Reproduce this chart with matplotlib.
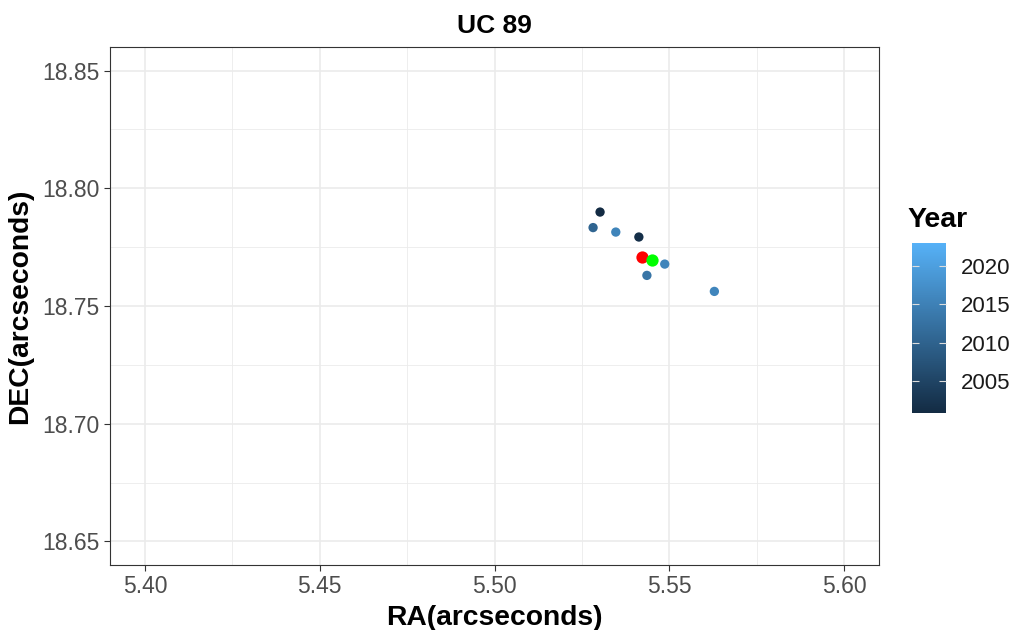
import matplotlib
matplotlib.use("Agg")
import matplotlib.pyplot as plt
from matplotlib.colors import LinearSegmentedColormap, Normalize
from matplotlib.cm import ScalarMappable
from matplotlib.ticker import MultipleLocator, FormatStrFormatter

plt.rcParams['font.family'] = ['Liberation Sans', 'DejaVu Sans']

# Observed positions, coloured by epoch
ra = [5.5302, 5.5282, 5.5347, 5.5413, 5.5487, 5.5436, 5.5629]
dec = [18.7899, 18.7833, 18.7814, 18.7793, 18.7678, 18.7630, 18.7562]
year = [2000.8, 2010.5, 2015.5, 2001.5, 2015.5, 2013.0, 2015.8]

# Reference positions
ref_ra = [5.5422]
ref_dec = [18.7708]
fit_ra = [5.5451]
fit_dec = [18.7697]

year_limits = (2000.8, 2023.0)
year_ticks = [2005, 2010, 2015, 2020]
x_ticks = [5.40, 5.45, 5.50, 5.55, 5.60]
y_ticks = [18.65, 18.70, 18.75, 18.80, 18.85]

cmap = LinearSegmentedColormap.from_list("year", ["#132B43", "#56B1F7"])
norm = Normalize(*year_limits)

W, H = 1013, 630
fig = plt.figure(figsize=(W / 100, H / 100), dpi=100)
ax = fig.add_axes([110 / W, 1 - 565 / H, (879 - 110) / W, (565 - 47) / H])

ax.scatter(ra, dec, c=year, cmap=cmap, norm=norm, s=45, linewidths=0, zorder=3)
ax.scatter(ref_ra, ref_dec, color="#FF0000", s=78, linewidths=0, zorder=4)
ax.scatter(fit_ra, fit_dec, color="#00FF00", s=78, linewidths=0, zorder=5)

ax.set_xlim(5.39, 5.61)
ax.set_ylim(18.64, 18.86)
ax.set_xticks(x_ticks)
ax.set_yticks(y_ticks)
ax.xaxis.set_major_formatter(FormatStrFormatter('%.2f'))
ax.yaxis.set_major_formatter(FormatStrFormatter('%.2f'))
ax.xaxis.set_minor_locator(MultipleLocator(0.025))
ax.yaxis.set_minor_locator(MultipleLocator(0.025))

ax.grid(True, which='major', color='#EBEBEB', linewidth=1.2, zorder=0)
ax.grid(True, which='minor', color='#EBEBEB', linewidth=0.6, zorder=0)
ax.set_axisbelow(True)
for sp in ax.spines.values():
    sp.set_color('#333333')
    sp.set_linewidth(0.8)
ax.tick_params(which='major', length=4.3, width=0.8, color='#333333',
               labelsize=16.5, labelcolor='#4D4D4D', pad=3)
ax.tick_params(which='minor', length=0)

ax.set_xlabel("RA(arcseconds)", fontsize=20.3, fontweight='bold', labelpad=5)
ax.set_ylabel("DEC(arcseconds)", fontsize=20.3, fontweight='bold', labelpad=7)
ax.set_title("UC 89", fontsize=19, fontweight='bold', pad=10)

# Colour bar for the observation year
cax = fig.add_axes([912 / W, 1 - 413 / H, 34 / W, 170 / H])
cb = fig.colorbar(ScalarMappable(norm=norm, cmap=cmap), cax=cax)
cb.outline.set_visible(False)
cb.set_ticks(year_ticks)
cax.tick_params(axis='y', which='both', direction='in', length=5, width=0.8,
                color='#DDDDDD', left=True, right=True,
                labelsize=16, labelcolor='#1A1A1A', pad=10.5)
cax.minorticks_off()
fig.text(907 / W, 1 - 226.5 / H, "Year", fontsize=20.5, fontweight='bold',
         ha='left', va='baseline', color='black')

fig.savefig("out.png", dpi=100, facecolor='white')
